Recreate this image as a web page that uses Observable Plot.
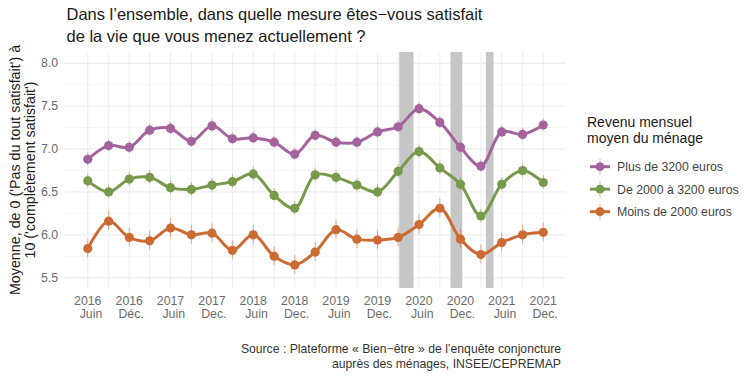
<!DOCTYPE html>
<html><head><meta charset="utf-8">
<script src="https://cdn.jsdelivr.net/npm/d3@7"></script>
<script src="https://cdn.jsdelivr.net/npm/@observablehq/plot@0.6"></script>
<style>
body{margin:0;background:#fff;}
#wrap{position:relative;width:754px;height:377px;overflow:hidden;background:#fff;}
</style>
</head><body><div id="wrap"></div>
<script>
// ---- Data ----
const periods = ["2016-06","2016-09","2016-12","2017-03","2017-06","2017-09","2017-12","2018-03","2018-06","2018-09","2018-12","2019-03","2019-06","2019-09","2019-12","2020-03","2020-06","2020-09","2020-12","2021-03","2021-06","2021-09","2021-12"];
const seriesNames = ["Plus de 3200 euros","De 2000 à 3200 euros","Moins de 2000 euros"];
const plus3200   = [6.88,7.04,7.02,7.22,7.24,7.09,7.27,7.12,7.13,7.08,6.94,7.16,7.08,7.08,7.20,7.26,7.47,7.31,7.02,6.80,7.20,7.17,7.28];
const de2000     = [6.63,6.50,6.65,6.67,6.55,6.53,6.58,6.62,6.71,6.46,6.31,6.70,6.67,6.58,6.50,6.74,6.97,6.78,6.59,6.22,6.59,6.75,6.61];
const moins2000  = [5.84,6.16,5.97,5.93,6.08,6.00,6.02,5.82,6.00,5.75,5.65,5.80,6.06,5.95,5.94,5.97,6.12,6.31,5.95,5.77,5.91,6.00,6.03];
const errHalf    = [0.07,0.08,0.11];
const seriesColors = ["#a5639e","#77994a","#cc6a33"];
const tickPeriods = ["2016-06","2016-12","2017-06","2017-12","2018-06","2018-12","2019-06","2019-12","2020-06","2020-12","2021-06","2021-12"];
const tickYears   = ["2016","2016","2017","2017","2018","2018","2019","2019","2020","2020","2021","2021"];
const tickMonths  = ["Juin","Déc.","Juin","Dec.","Juin","Dec.","Juin","Dec.","Juin","Dec.","Juin","Dec."];
const yMajor = [5.5,6.0,6.5,7.0,7.5,8.0];
const yMinor = [5.75,6.25,6.75,7.25,7.75];
const lockStart = ["2020-03-08","2020-10-20","2021-03-25"];
const lockEnd   = ["2020-05-10","2020-12-11","2021-04-28"];

// ---- Build tables ----
const parse = s => new Date(s.length === 7 ? s + "-01T00:00:00Z" : s + "T00:00:00Z");
const valuesBySeries = [plus3200, de2000, moins2000];
const data = [];
seriesNames.forEach((name, si) => periods.forEach((p, i) => data.push({series: name, date: parse(p), v: valuesBySeries[si][i], e: errHalf[si]})));
const ticks = tickPeriods.map((p, i) => ({date: parse(p), year: tickYears[i], month: tickMonths[i]}));
const quarterDates = periods.map(parse);
const bands = lockStart.map((s, i) => ({x1: parse(s), x2: parse(lockEnd[i])}));
const ext = d3.extent(quarterDates);
const pad = (ext[1] - ext[0]) * 0.05;
const xDomain = [new Date(+ext[0] - pad), new Date(+ext[1] + pad)];

const FONT = "Liberation Sans, Arial, sans-serif";
const chart = Plot.plot({
  width: 754, height: 377,
  marginLeft: 64.5, marginRight: 188.5, marginTop: 52, marginBottom: 89,
  style: {fontFamily: FONT, fontSize: "12.3px", color: "#666", background: "#fff"},
  x: {type: "utc", domain: xDomain, axis: null},
  y: {domain: [5.375, 8.125], axis: null},
  color: {domain: seriesNames, range: seriesColors},
  marks: [
    Plot.ruleY(yMinor, {stroke: "#eeeeee", strokeWidth: 0.6}),
    Plot.ruleY(yMajor, {stroke: "#e8e8e8", strokeWidth: 1}),
    Plot.ruleX(quarterDates, {stroke: "#ebebeb", strokeWidth: 0.9}),
    Plot.rect(bands, {x1: "x1", x2: "x2", fill: "#c6c6c6"}),
    Plot.ruleX(data, {x: "date", y1: d => d.v - d.e, y2: d => d.v + d.e, stroke: "series", strokeOpacity: 0.55, strokeWidth: 1}),
    Plot.line(data, {x: "date", y: "v", z: "series", stroke: "series", strokeWidth: 3, curve: "catmull-rom"}),
    Plot.dot(data, {x: "date", y: "v", fill: "series", r: 4.6}),
    Plot.axisY({ticks: yMajor, tickSize: 0, tickPadding: 7, tickFormat: d => d.toFixed(1), label: null, fontSize: 12.3, fill: "#6b6b6b"}),
    Plot.text(ticks, {x: "date", text: "year", frameAnchor: "bottom", lineAnchor: "bottom", dy: 16, fontSize: 12.3, fill: "#6b6b6b"}),
    Plot.text(ticks, {x: "date", text: "month", frameAnchor: "bottom", lineAnchor: "bottom", textAnchor: "end", dx: 14.5, dy: 29.7, fontSize: 12.3, fill: "#6b6b6b"})
  ]
});
document.getElementById("wrap").appendChild(chart);

// ---- Annotations: title, axis title, legend, caption ----
const svg = d3.select(chart);
const addText = (x, y, txt, size, fill, anchor = "start") =>
  svg.append("text").attr("x", x).attr("y", y).attr("font-family", FONT).attr("font-size", size)
     .attr("fill", fill).attr("text-anchor", anchor).text(txt);

addText(66.5, 19.5, "Dans l’ensemble, dans quelle mesure êtes−vous satisfait", 16.5, "#1a1a1a");
addText(66.5, 41.8, "de la vie que vous menez actuellement ?", 16.5, "#1a1a1a");

const yl = svg.append("g").attr("transform", "translate(20,170) rotate(-90)");
yl.append("text").attr("x", 0).attr("y", 0).attr("text-anchor", "middle").attr("font-family", FONT)
  .attr("font-size", 14.3).attr("fill", "#1a1a1a").text("Moyenne, de 0 ('Pas du tout satisfait') à");
yl.append("text").attr("x", 0).attr("y", 14.6).attr("text-anchor", "middle").attr("font-family", FONT)
  .attr("font-size", 14.3).attr("fill", "#1a1a1a").text("10 ('complètement satisfait')");

addText(587, 126.7, "Revenu mensuel", 14, "#1a1a1a");
addText(587, 143.3, "moyen du ménage", 14, "#1a1a1a");
seriesNames.forEach((name, i) => {
  const cy = 166.7 + i * 22.5;
  const c = seriesColors[i];
  svg.append("line").attr("x1", 590).attr("x2", 610).attr("y1", cy).attr("y2", cy).attr("stroke", c).attr("stroke-width", 3);
  svg.append("line").attr("x1", 600).attr("x2", 600).attr("y1", cy - 8).attr("y2", cy + 8).attr("stroke", c).attr("stroke-opacity", 0.55).attr("stroke-width", 1);
  svg.append("circle").attr("cx", 600).attr("cy", cy).attr("r", 4.4).attr("fill", c);
  addText(617, cy + 4.3, name, 12.3, "#444");
});

addText(561, 353.3, "Source : Plateforme « Bien−être » de l’enquête conjoncture", 12.2, "#333", "end");
addText(561, 367.5, "auprès des ménages, INSEE/CEPREMAP", 12.2, "#333", "end");
</script>
</body></html>
